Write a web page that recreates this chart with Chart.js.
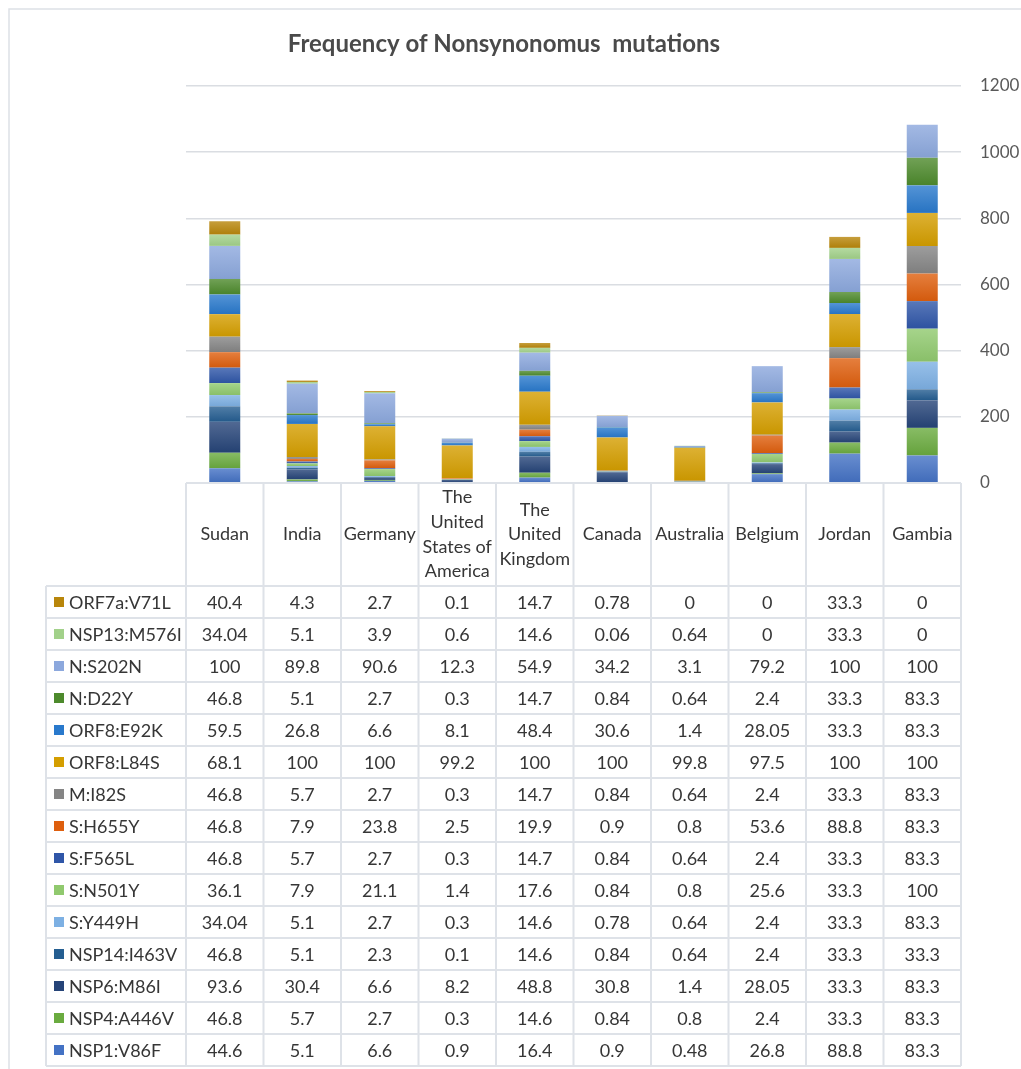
<!DOCTYPE html>
<html>
<head>
<meta charset="utf-8">
<title>Frequency of Nonsynonomus mutations</title>
<script src="https://cdn.jsdelivr.net/npm/chart.js@4.4.1/dist/chart.umd.min.js"></script>
<style>
  html, body { margin: 0; padding: 0; background: #ffffff; }
  #wrap { position: relative; width: 1021px; height: 1069px; }
</style>
</head>
<body>
<div id="wrap"><canvas id="chart"></canvas></div>
<script>
// Countries along the category axis
const countries = ['Sudan', 'India', 'Germany', 'The United States of America', 'The United Kingdom',
                   'Canada', 'Australia', 'Belgium', 'Jordan', 'Gambia'];

// Mutation frequencies per country (stacked bottom to top in this order)
const nsp1V86F    = [44.6, 5.1, 6.6, 0.9, 16.4, 0.9, 0.48, 26.8, 88.8, 83.3];
const nsp4A446V   = [46.8, 5.7, 2.7, 0.3, 14.6, 0.84, 0.8, 2.4, 33.3, 83.3];
const nsp6M86I    = [93.6, 30.4, 6.6, 8.2, 48.8, 30.8, 1.4, 28.05, 33.3, 83.3];
const nsp14I463V  = [46.8, 5.1, 2.3, 0.1, 14.6, 0.84, 0.64, 2.4, 33.3, 33.3];
const sY449H      = [34.04, 5.1, 2.7, 0.3, 14.6, 0.78, 0.64, 2.4, 33.3, 83.3];
const sN501Y      = [36.1, 7.9, 21.1, 1.4, 17.6, 0.84, 0.8, 25.6, 33.3, 100];
const sF565L      = [46.8, 5.7, 2.7, 0.3, 14.7, 0.84, 0.64, 2.4, 33.3, 83.3];
const sH655Y      = [46.8, 7.9, 23.8, 2.5, 19.9, 0.9, 0.8, 53.6, 88.8, 83.3];
const mI82S       = [46.8, 5.7, 2.7, 0.3, 14.7, 0.84, 0.64, 2.4, 33.3, 83.3];
const orf8L84S    = [68.1, 100, 100, 99.2, 100, 100, 99.8, 97.5, 100, 100];
const orf8E92K    = [59.5, 26.8, 6.6, 8.1, 48.4, 30.6, 1.4, 28.05, 33.3, 83.3];
const nD22Y       = [46.8, 5.1, 2.7, 0.3, 14.7, 0.84, 0.64, 2.4, 33.3, 83.3];
const nS202N      = [100, 89.8, 90.6, 12.3, 54.9, 34.2, 3.1, 79.2, 100, 100];
const nsp13M576I  = [34.04, 5.1, 3.9, 0.6, 14.6, 0.06, 0.64, 0, 33.3, 0];
const orf7aV71L   = [40.4, 4.3, 2.7, 0.1, 14.7, 0.78, 0, 0, 33.3, 0];

const seriesNames = ['NSP1:V86F', 'NSP4:A446V', 'NSP6:M86I', 'NSP14:I463V', 'S:Y449H', 'S:N501Y',
                     'S:F565L', 'S:H655Y', 'M:I82S', 'ORF8:L84S', 'ORF8:E92K', 'N:D22Y',
                     'N:S202N', 'NSP13:M576I', 'ORF7a:V71L'];
const seriesValues = [nsp1V86F, nsp4A446V, nsp6M86I, nsp14I463V, sY449H, sN501Y, sF565L, sH655Y,
                      mI82S, orf8L84S, orf8E92K, nD22Y, nS202N, nsp13M576I, orf7aV71L];

// Value-axis tick labels
const yTickValues = [0, 200, 400, 600, 800, 1000, 1200];

// Fill colours, one per series
const seriesColors = ['#4472C4', '#6AAB3F', '#264478', '#255E91', '#7DB0E3', '#90C96E',
                      '#2F56A8', '#DE5F0E', '#858585', '#D49E00', '#2979CC', '#4D8A2C',
                      '#8CA8DD', '#A2D18A', '#B8860B'];

const FONT = 'Lato, "Open Sans", "DejaVu Sans", sans-serif';
const TEXT = '#363636';
const LINE = '#DEE2E8';

function mix(hex, target, t) {
  const a = parseInt(hex.slice(1), 16), b = parseInt(target.slice(1), 16);
  const ch = (v, s) => (v >> s) & 255;
  const m = s => Math.round(ch(a, s) + (ch(b, s) - ch(a, s)) * t);
  return 'rgb(' + m(16) + ',' + m(8) + ',' + m(0) + ')';
}

function wrapWords(ctx, text, maxW) {
  const words = text.split(' ');
  const lines = [];
  let cur = '';
  for (const w of words) {
    const t = cur ? cur + ' ' + w : w;
    if (cur && ctx.measureText(t).width > maxW) { lines.push(cur); cur = w; }
    else cur = t;
  }
  if (cur) lines.push(cur);
  return lines;
}

// Soft vertical gradient on every bar segment
const barShade = {
  id: 'barShade',
  beforeDatasetsDraw(chart) {
    const ctx = chart.ctx;
    chart.data.datasets.forEach((ds, di) => {
      const meta = chart.getDatasetMeta(di);
      meta.data.forEach(bar => {
        const top = Math.min(bar.y, bar.base), bottom = Math.max(bar.y, bar.base);
        if (!(bottom - top > 0.5) || !bar.options || Object.isFrozen(bar.options)) return;
        const g = ctx.createLinearGradient(0, top, 0, bottom);
        g.addColorStop(0, mix(seriesColors[di], '#ffffff', 0.2));
        g.addColorStop(1, mix(seriesColors[di], '#000000', 0.05));
        bar.options.backgroundColor = g;
      });
    });
  }
};

// Frame, title and the data table under the plot
const chartDecor = {
  id: 'chartDecor',
  beforeDraw(chart) {
    const ctx = chart.ctx;
    ctx.save();
    ctx.strokeStyle = '#DDE1E6';
    ctx.lineWidth = 1.5;
    ctx.strokeRect(9, 9, 1200, 1200);
    ctx.restore();
  },
  afterDraw(chart) {
    const { ctx, chartArea } = chart;
    const x = chart.scales.x;
    const n = countries.length;
    const step = x.getPixelForValue(1) - x.getPixelForValue(0);
    const left = x.getPixelForValue(0) - step / 2;
    const edges = [];
    for (let i = 0; i <= n; i++) edges.push(left + i * step);
    const right = edges[n];
    const top = chartArea.bottom;
    const headerBottom = top + 103;
    const rowH = 32;
    const rows = seriesNames.length;
    const tableBottom = headerBottom + rows * rowH;
    const legendLeft = 46;

    ctx.save();
    // title
    ctx.fillStyle = '#4A4A4A';
    ctx.font = 'bold 24px ' + FONT;
    ctx.textAlign = 'center';
    ctx.textBaseline = 'middle';
    ctx.fillText('Frequency of Nonsynonomus  mutations', 504, 44);

    // grid of the table
    ctx.strokeStyle = LINE;
    ctx.lineWidth = 2;
    ctx.beginPath();
    ctx.moveTo(left, top); ctx.lineTo(right, top);
    for (let r = 0; r <= rows; r++) {
      const y = headerBottom + r * rowH;
      ctx.moveTo(legendLeft, y); ctx.lineTo(right, y);
    }
    for (let i = 0; i <= n; i++) {
      ctx.moveTo(edges[i], top); ctx.lineTo(edges[i], tableBottom);
    }
    ctx.moveTo(legendLeft, headerBottom); ctx.lineTo(legendLeft, tableBottom);
    ctx.stroke();

    // header cells
    ctx.fillStyle = TEXT;
    ctx.font = '18px ' + FONT;
    ctx.textAlign = 'center';
    ctx.textBaseline = 'middle';
    const headMid = (top + headerBottom) / 2;
    const lh = 24.6;
    countries.forEach((name, i) => {
      const lines = wrapWords(ctx, name, step - 4);
      const cx = (edges[i] + edges[i + 1]) / 2;
      const y0 = headMid - (lines.length - 1) * lh / 2;
      lines.forEach((ln, k) => ctx.fillText(ln, cx, y0 + k * lh));
    });

    // body rows: top row is the last series
    for (let r = 0; r < rows; r++) {
      const si = rows - 1 - r;
      const cy = headerBottom + r * rowH + rowH / 2;
      ctx.fillStyle = seriesColors[si];
      ctx.fillRect(54, cy - 5, 10, 10);
      ctx.fillStyle = TEXT;
      ctx.textAlign = 'left';
      ctx.fillText(seriesNames[si], 69, cy + 1);
      ctx.textAlign = 'center';
      seriesValues[si].forEach((v, i) => {
        ctx.fillText(String(v), (edges[i] + edges[i + 1]) / 2, cy + 1);
      });
    }
    ctx.restore();
  }
};

const datasets = seriesNames.map((name, i) => ({
  label: name,
  data: seriesValues[i],
  backgroundColor: () => seriesColors[i],
  borderWidth: 0,
  barPercentage: 0.4,
  categoryPercentage: 1.0,
  stack: 'all'
}));

new Chart(document.getElementById('chart'), {
  type: 'bar',
  data: { labels: countries, datasets },
  plugins: [barShade, chartDecor],
  options: {
    responsive: true,
    maintainAspectRatio: false,
    animation: false,
    layout: { padding: { top: 86, bottom: 586, left: 186, right: 0 } },
    plugins: {
      legend: { display: false },
      title: { display: false },
      tooltip: { enabled: false }
    },
    scales: {
      x: { stacked: true, display: false },
      y: {
        stacked: true,
        position: 'right',
        min: 0,
        max: 1200,
        afterBuildTicks: s => { s.ticks = yTickValues.map(v => ({ value: v })); },
        afterFit: s => { s.width = 60; },
        grid: { color: '#DADDE2', lineWidth: 1.5, drawTicks: false },
        border: { display: false },
        ticks: {
          padding: 19,
          color: '#595959',
          font: { family: FONT, size: 17 },
          callback: v => String(v)
        }
      }
    }
  }
});
</script>
</body>
</html>
